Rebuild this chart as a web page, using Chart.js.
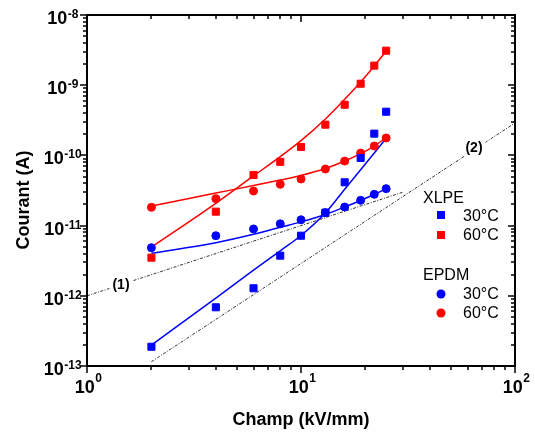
<!DOCTYPE html>
<html>
<head>
<meta charset="utf-8">
<script src="https://cdn.jsdelivr.net/npm/chart.js@4.4.0/dist/chart.umd.min.js"></script>
<style>
html, body { margin: 0; padding: 0; background: #fff; }
#wrap { width: 535px; height: 437px; }
</style>
</head>
<body>
<div id="wrap"><canvas id="chart" width="535" height="437"></canvas></div>
<script>
// champ électrique (kV/mm)
const champ = [2, 4, 6, 8, 10, 13, 16, 19, 22, 25];

// courants mesurés (A)
const xlpe30 = [1.88e-13, 6.86e-13, 1.28e-12, 3.73e-12, 7.18e-12, 1.53e-11, 4.14e-11, 9.2e-11, 2.04e-10, 4.19e-10];
const xlpe60 = [3.49e-12, 1.58e-11, 5.26e-11, 8.1e-11, 1.32e-10, 2.74e-10, 5.27e-10, 1.05e-9, 1.9e-9, 3.1e-9];
const epdm30 = [4.84e-12, 7.18e-12, 8.95e-12, 1.06e-11, 1.21e-11, 1.53e-11, 1.84e-11, 2.29e-11, 2.79e-11, 3.36e-11];
const epdm60 = [1.82e-11, 2.42e-11, 3.11e-11, 3.88e-11, 4.61e-11, 6.4e-11, 8.3e-11, 1.08e-10, 1.36e-10, 1.77e-10];

// courbes d'ajustement
const fitXlpe30 = [1.99e-13, 9.27e-13, 2.32e-12, 4.38e-12, 7.23e-12, 1.51e-11, 3.29e-11, 6.25e-11, 1.08e-10, 1.75e-10];
const fitXlpe60 = [4.95e-12, 2.08e-11, 5.1e-11, 9.6e-11, 1.62e-10, 3.3e-10, 6.3e-10, 1.11e-9, 1.88e-9, 3.07e-9];
const fitEpdm30 = [4.03e-12, 5.7e-12, 7.51e-12, 9.46e-12, 1.13e-11, 1.44e-11, 1.84e-11, 2.28e-11, 2.77e-11, 3.36e-11];
const fitEpdm60 = [1.9e-11, 2.91e-11, 3.72e-11, 4.46e-11, 5.18e-11, 6.51e-11, 8.32e-11, 1.06e-10, 1.36e-10, 1.79e-10];

// droites de référence (1) et (2)
const ref1X = [1, 30];
const ref1Y = [1e-12, 3e-11];
const ref2X = [2, 100];
const ref2Y = [1.15e-13, 2.9e-10];

// graduations principales et leurs libellés
const xTicks = [1, 10, 100];
const xTickExp = ['0', '1', '2'];
const yTicks = [1e-13, 1e-12, 1e-11, 1e-10, 1e-9, 1e-8];
const yTickExp = ['-13', '-12', '-11', '-10', '-9', '-8'];

const BLUE = '#0000ff';
const RED = '#ff0000';

/*
 * associe deux tableaux en points {x, y}
 */
const toPts = function (xs, ys) {
    return xs.map((x, i) => ({ x: x, y: ys[i] }));
};

/*
 * écrit "10" avec un exposant, centré en cx
 */
const drawPow = function (ctx, exp, cx, baseY, supY) {
    ctx.font = 'bold 18px "Liberation Sans", Arial, sans-serif';
    const wb = ctx.measureText('10').width;
    ctx.font = 'bold 12px "Liberation Sans", Arial, sans-serif';
    const we = ctx.measureText(exp).width;
    const x0 = cx - (wb + we) / 2;
    ctx.textAlign = 'left';
    ctx.textBaseline = 'alphabetic';
    ctx.font = 'bold 18px "Liberation Sans", Arial, sans-serif';
    ctx.fillText('10', x0, baseY);
    ctx.font = 'bold 12px "Liberation Sans", Arial, sans-serif';
    ctx.fillText(exp, x0 + wb + 0.5, supY);
};

/*
 * libellé sur fond blanc pour couper la droite pointillée
 */
const drawTag = function (ctx, txt, cx, baseY) {
    ctx.font = 'bold 14px "Liberation Sans", Arial, sans-serif';
    const w = ctx.measureText(txt).width;
    ctx.fillStyle = '#fff';
    ctx.fillRect(cx - w / 2 - 3, baseY - 13, w + 6, 17);
    ctx.fillStyle = '#000';
    ctx.textAlign = 'center';
    ctx.textBaseline = 'alphabetic';
    ctx.fillText(txt, cx, baseY);
};

const decor = {
    id: 'decor',
    afterDraw(chart) {
        const ctx = chart.ctx;
        const a = chart.chartArea;
        const xs = chart.scales.x;
        const ys = chart.scales.y;
        ctx.save();

        // étiquettes des droites
        drawTag(ctx, '(1)', 121, 289);
        drawTag(ctx, '(2)', 474, 152);

        // cadre
        ctx.strokeStyle = '#000';
        ctx.lineWidth = 2;
        ctx.strokeRect(a.left, a.top, a.right - a.left, a.bottom - a.top);

        // graduations
        ctx.lineWidth = 1.5;
        ctx.beginPath();
        xTicks.forEach((t, i) => {
            const last = i === xTicks.length - 1;
            for (let m = 1; m < (last ? 2 : 10); m++) {
                const px = Math.round(xs.getPixelForValue(t * m));
                const len = m === 1 ? 7 : 4;
                ctx.moveTo(px, a.bottom); ctx.lineTo(px, a.bottom + len);
                ctx.moveTo(px, a.top); ctx.lineTo(px, a.top + len);
            }
        });
        yTicks.forEach((t, i) => {
            const last = i === yTicks.length - 1;
            for (let m = 1; m < (last ? 2 : 10); m++) {
                const py = Math.round(ys.getPixelForValue(t * m));
                const len = m === 1 ? 7 : 4;
                ctx.moveTo(a.left, py); ctx.lineTo(a.left - len, py);
                ctx.moveTo(a.right, py); ctx.lineTo(a.right - len, py);
            }
        });
        ctx.stroke();

        // libellés des graduations
        ctx.fillStyle = '#000';
        xTicks.forEach((t, i) => {
            const px = xs.getPixelForValue(t);
            drawPow(ctx, xTickExp[i], px + 1, 393, 382);
        });
        yTicks.forEach((t, i) => {
            const py = ys.getPixelForValue(t);
            drawPow(ctx, yTickExp[i], 62.5, py + 9, py + 3);
        });

        // titres des axes
        ctx.font = 'bold 18px "Liberation Sans", Arial, sans-serif';
        ctx.textAlign = 'center';
        ctx.textBaseline = 'alphabetic';
        ctx.fillText('Champ (kV/mm)', (a.left + a.right) / 2, 425);
        ctx.save();
        ctx.translate(29, 200);
        ctx.rotate(-Math.PI / 2);
        ctx.fillText('Courant (A)', 0, 0);
        ctx.restore();

        // légende
        ctx.font = '16px "Liberation Sans", Arial, sans-serif';
        ctx.textAlign = 'left';
        ctx.fillText('XLPE', 423, 203);
        ctx.fillText('30°C', 463, 221);
        ctx.fillText('60°C', 463, 240);
        ctx.fillText('EPDM', 423, 280);
        ctx.fillText('30°C', 463, 299);
        ctx.fillText('60°C', 463, 318);
        ctx.fillStyle = BLUE;
        ctx.fillRect(437, 211, 8, 8);
        ctx.fillStyle = RED;
        ctx.fillRect(437, 231, 8, 8);
        ctx.beginPath();
        ctx.fillStyle = BLUE;
        ctx.arc(441, 294, 4.5, 0, Math.PI * 2);
        ctx.fill();
        ctx.beginPath();
        ctx.fillStyle = RED;
        ctx.arc(441, 313, 4.5, 0, Math.PI * 2);
        ctx.fill();

        ctx.restore();
    }
};

const pointSet = function (ys, color, style) {
    return {
        data: toPts(champ, ys),
        showLine: false,
        pointStyle: style,
        pointRadius: style === 'rect' ? 5 : 4,
        pointBorderWidth: 1,
        pointBackgroundColor: color,
        pointBorderColor: color,
        order: 1
    };
};

const fitSet = function (ys, color) {
    return {
        data: toPts(champ, ys),
        showLine: true,
        pointRadius: 0,
        borderColor: color,
        borderWidth: 1.5,
        cubicInterpolationMode: 'monotone',
        order: 2
    };
};

const refSet = function (xs, ys) {
    return {
        data: toPts(xs, ys),
        showLine: true,
        pointRadius: 0,
        borderColor: '#333',
        borderWidth: 1,
        borderDash: [3, 1.5, 1, 1.5],
        order: 3
    };
};

document.addEventListener('DOMContentLoaded', function () {
    const ctx = document.getElementById('chart').getContext('2d');

    new Chart(ctx, {
        type: 'scatter',
        data: {
            datasets: [
                pointSet(xlpe30, BLUE, 'rect'),
                pointSet(xlpe60, RED, 'rect'),
                pointSet(epdm30, BLUE, 'circle'),
                pointSet(epdm60, RED, 'circle'),
                fitSet(fitXlpe30, BLUE),
                fitSet(fitXlpe60, RED),
                fitSet(fitEpdm30, BLUE),
                fitSet(fitEpdm60, RED),
                refSet(ref1X, ref1Y),
                refSet(ref2X, ref2Y)
            ]
        },
        options: {
            responsive: false,
            animation: false,
            layout: {
                padding: { left: 87, right: 20, top: 15, bottom: 71 }
            },
            scales: {
                x: { type: 'logarithmic', min: 1, max: 100, display: false },
                y: { type: 'logarithmic', min: 1e-13, max: 1e-8, display: false }
            },
            plugins: {
                legend: { display: false },
                tooltip: { enabled: false }
            }
        },
        plugins: [decor]
    });
});
</script>
</body>
</html>
